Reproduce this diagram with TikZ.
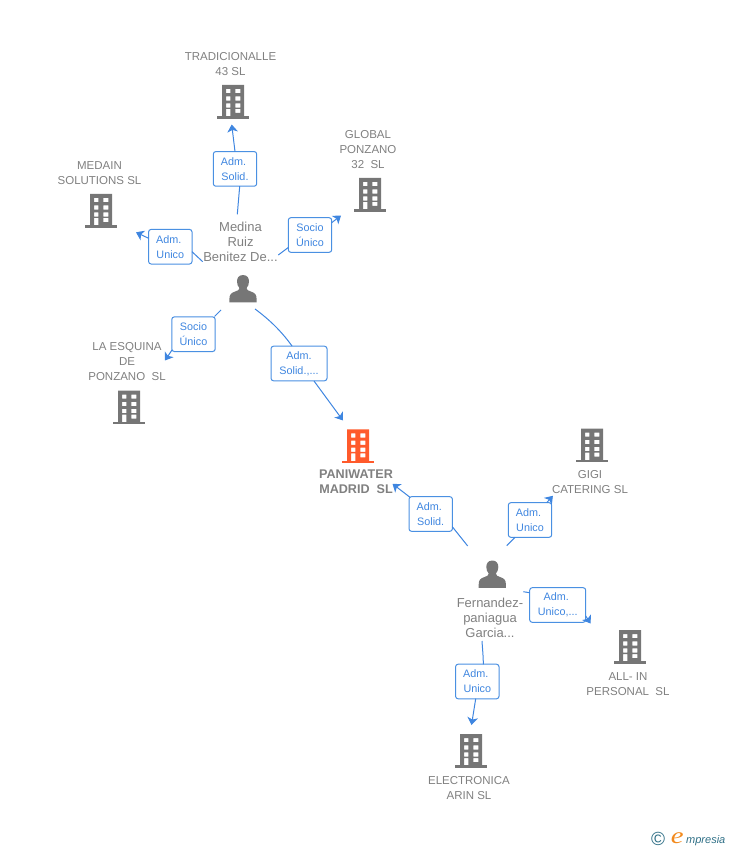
\documentclass[tikz,border=0pt]{standalone}
\usepackage{fontspec}
\setmainfont{Liberation Sans}
\newfontfamily\logofont{Liberation Serif}
\usetikzlibrary{arrows.meta}
\definecolor{txtgrey}{HTML}{808080}
\definecolor{icongrey}{HTML}{767676}
\definecolor{hot}{HTML}{FF5A2B}
\definecolor{linkblue}{HTML}{3F86E0}
\definecolor{boxblue}{HTML}{4A90E2}
\definecolor{logoteal}{HTML}{2F6F86}
\definecolor{logoorange}{HTML}{F28A1E}
\tikzset{
  x=1pt,y=-1pt,
  name text/.style={inner sep=0pt,align=center,text=txtgrey,font=\fontsize{11.5}{15}\selectfont},
  person text/.style={inner sep=0pt,align=center,text=txtgrey,font=\fontsize{13}{15}\selectfont},
  main text/.style={inner sep=0pt,align=center,text=txtgrey,font=\fontsize{12.6}{15}\selectfont\bfseries},
  rel/.style={draw=boxblue,fill=white,line width=1pt,rounded corners=2.5pt,inner sep=0pt,
    minimum width=43.4pt,minimum height=34.6pt,align=center,text=linkblue,
    font=\fontsize{10.8}{15}\selectfont,execute at begin node={\rule{0pt}{10pt}}},
  link/.style={draw=linkblue,line width=1pt},
  tip/.style={link,-{Stealth[length=7.5pt,width=10.5pt,inset=2pt]}},
  pics/building/.style={code={
    \fill[#1,even odd rule]
      (-11,0) rectangle (11,32)
      (-7,4) rectangle (-2.6,8.2) (2.4,4) rectangle (7.4,8.2)
      (-7,11.4) rectangle (-2.6,15.6) (2.4,11.4) rectangle (7.4,15.6)
      (-7,18.4) rectangle (-2.6,22.6) (2.4,18.4) rectangle (7.4,22.6)
      (-7,24) rectangle (-2.6,32) (2.4,24) rectangle (7.4,28);
    \fill[#1] (-16,31.4) rectangle (16,33.6);
  }},
  pics/person/.style={code={
    \fill[icongrey] (0,0) .. controls (-4.6,0) and (-6,3.4) .. (-6,6.6)
      .. controls (-6,9.4) and (-5,11.4) .. (-3.6,13)
      .. controls (-3.6,15) and (-5,15.6) .. (-8,16.6)
      .. controls (-12,18) and (-13.6,19.4) .. (-13.6,24)
      -- (-13.6,27.4) -- (13.6,27.4) -- (13.6,24)
      .. controls (13.6,19.4) and (12,18) .. (8,16.6)
      .. controls (5,15.6) and (3.6,15) .. (3.6,13)
      .. controls (5,11.4) and (6,9.4) .. (6,6.6)
      .. controls (6,3.4) and (4.6,0) .. (0,0) -- cycle;
  }}
}
\begin{document}
\begin{tikzpicture}
\useasboundingbox (0,0) rectangle (728,850);

% icons
\pic (bTrad) at (233,85) {building=icongrey};
\pic (bMed) at (101,194) {building=icongrey};
\pic (bGlob) at (370,178) {building=icongrey};
\pic (bEsq) at (129,390.5) {building=icongrey};
\pic (bPani) at (358,429.3) {building=hot};
\pic (bGigi) at (592,428.5) {building=icongrey};
\pic (bAll) at (630,630) {building=icongrey};
\pic (bElec) at (471,734) {building=icongrey};
\pic (pMed) at (243,275) {person};
\pic (pFer) at (492.3,560.5) {person};

% names
\node[name text] (tTrad) at (230.5,64) {TRADICIONALLE\\43 SL};
\node[name text] (tMed) at (99.5,173) {MEDAIN\\SOLUTIONS SL};
\node[name text] (tGlob) at (368,149.5) {GLOBAL\\PONZANO\\32\ \ SL};
\node[person text] (tMedina) at (240.5,242) {Medina\\Ruiz\\Benitez De...};
\node[name text] (tEsq) at (127,361.5) {LA ESQUINA\\DE\\PONZANO\ \ SL};
\node[main text] (tPani) at (356,482) {PANIWATER\\MADRID\ \ SL};
\node[name text] (tGigi) at (590,482) {GIGI\\CATERING SL};
\node[person text] (tFer) at (490,618) {Fernandez-\\paniagua\\Garcia...};
\node[name text] (tAll) at (628,684) {ALL- IN\\PERSONAL\ \ SL};
\node[name text] (tElec) at (469,788) {ELECTRONICA\\ARIN SL};

% relation boxes
\node[rel] (rTrad) at (235,168.9) {Adm.\hspace*{3pt}\\Solid.};
\node[rel] (rGlob) at (310,235) {Socio\\Único};
\node[rel] (rMed) at (170.3,246.7) {Adm.\hspace*{3pt}\\Unico};
\node[rel] (rEsq) at (193.5,334.2) {Socio\\Único};
\node[rel,minimum width=56pt] (rPaniA) at (299,363.5) {Adm.\\Solid.,...};
\node[rel] (rPaniB) at (430.7,514) {Adm.\hspace*{3pt}\\Solid.};
\node[rel] (rGigi) at (530,520) {Adm.\hspace*{3pt}\\Unico};
\node[rel,minimum width=56pt] (rAll) at (557.7,605) {Adm.\hspace*{3pt}\\Unico,...};
\node[rel] (rElec) at (477.3,681.5) {Adm.\hspace*{3pt}\\Unico};

% free ends of the connectors
\coordinate (a1) at (237.3,214.3); \coordinate (a1b) at (239.7,186.2);
\coordinate (a1c) at (235,151.6);  \coordinate (a1t) at (231.7,124.5);
\coordinate (a2) at (278.3,255);   \coordinate (a2b) at (288.3,247.5);
\coordinate (a2c) at (331.7,222.7);\coordinate (a2t) at (341,215.5);
\coordinate (a3) at (202.7,261.7); \coordinate (a3b) at (192,251.7);
\coordinate (a3c) at (148.6,238.3);\coordinate (a3t) at (136,232.3);
\coordinate (a4) at (221,310);     \coordinate (a4b) at (214.5,316.5);
\coordinate (a4c) at (172,350);    \coordinate (a4t) at (165,360.5);
\coordinate (a5) at (255,309);     \coordinate (a5b) at (292,346);
\coordinate (a5c) at (314,381);    \coordinate (a5t) at (343,420.5);
\coordinate (a6) at (467.7,546);   \coordinate (a6b) at (452.3,526.7);
\coordinate (a6c) at (410,497.3);  \coordinate (a6t) at (392.5,483.8);
\coordinate (a7) at (506.7,545.7); \coordinate (a7b) at (515,537.3);
\coordinate (a7c) at (546.7,502.7);\coordinate (a7t) at (552.9,495.8);
\coordinate (a8) at (523.3,591.7); \coordinate (a8b) at (529.7,592.7);
\coordinate (a8c) at (585.7,616);  \coordinate (a8t) at (590.6,623.5);
\coordinate (a9) at (482,641);     \coordinate (a9b) at (483.3,664.3);
\coordinate (a9c) at (475.7,698.7);\coordinate (a9t) at (471.5,725);

% connectors
\draw[link] (a1) -- (a1b);  \draw[tip] (a1c) -- (a1t);
\draw[link] (a2) -- (a2b);  \draw[tip] (a2c) -- (a2t);
\draw[link] (a3) -- (a3b);  \draw[tip] (a3c) -- (a3t);
\draw[link] (a4) -- (a4b);  \draw[tip] (a4c) -- (a4t);
\draw[link] (a5) .. controls (270,320) and (282,332) .. (a5b);  \draw[tip] (a5c) -- (a5t);
\draw[link] (a6) -- (a6b);  \draw[tip] (a6c) -- (a6t);
\draw[link] (a7) -- (a7b);  \draw[tip] (a7c) -- (a7t);
\draw[link] (a8) -- (a8b);  \draw[tip] (a8c) -- (a8t);
\draw[link] (a9) .. controls (482.4,648) and (483.3,656) .. (a9b);  \draw[tip] (a9c) -- (a9t);

% logo
\node[inner sep=0pt,text=logoteal,font=\fontsize{19}{19}\selectfont] (logoC) at (658,838.5) {©};
\node[inner sep=0pt,anchor=base west,xscale=1.25,text=logoorange,font=\fontsize{23}{23}\selectfont\logofont\itshape] (logoE) at (670.5,843.5) {e};
\node[inner sep=0pt,anchor=base west,text=logoteal,font=\fontsize{11}{13}\selectfont\itshape] (logoT) at (686,843.5) {mpresia};
\end{tikzpicture}
\end{document}
